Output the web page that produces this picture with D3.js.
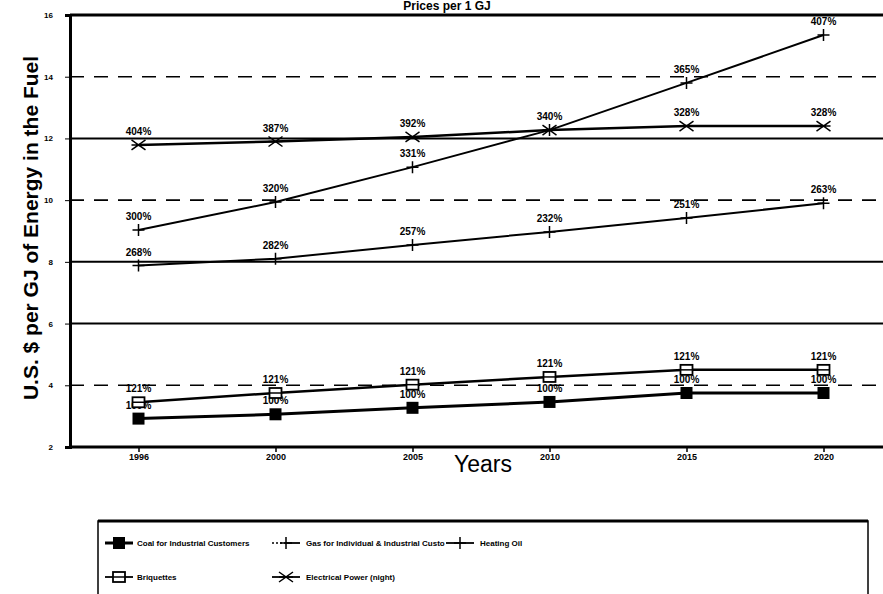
<!DOCTYPE html>
<html>
<head>
<meta charset="utf-8">
<script src="https://cdn.jsdelivr.net/npm/d3@7"></script>
<style>
  body { margin: 0; background: #fff; }
  text { font-family: "Liberation Sans Narrow", "Liberation Sans", Arial, sans-serif; }
</style>
</head>
<body>
<svg id="chart" width="883" height="594"></svg>
<script>
// datos
const years = ['1996', '2000', '2005', '2010', '2015', '2020'];
const yTicks = [2, 4, 6, 8, 10, 12, 14, 16];

const coal = [2.92, 3.06, 3.27, 3.46, 3.75, 3.75];
const coalLabels = ['100%', '100%', '100%', '100%', '100%', '100%'];

const gas = [7.88, 8.1, 8.55, 8.97, 9.42, 9.9];
const gasLabels = ['268%', '282%', '257%', '232%', '251%', '263%'];

const oil = [9.03, 9.94, 11.07, 12.27, 13.8, 15.35];
const oilLabels = ['300%', '320%', '331%', '340%', '365%', '407%'];

const briquettes = [3.45, 3.75, 4.02, 4.27, 4.5, 4.5];
const briqLabels = ['121%', '121%', '121%', '121%', '121%', '121%'];

const power = [11.79, 11.9, 12.05, 12.27, 12.4, 12.4];
const powerLabels = ['404%', '387%', '392%', '', '328%', '328%'];

const svg = d3.select('#chart');

const x = d3.scalePoint().domain(years).range([70, 892]).padding(0.5);
const y = d3.scaleLinear().domain([2, 16]).range([447, 15]);

// lineas de referencia
const solidGrid = [6, 8, 12];
svg.append('g')
  .selectAll('line')
  .data([4, 6, 8, 10, 12, 14])
  .enter()
  .append('line')
  .attr('x1', 70).attr('x2', 883)
  .attr('y1', d => y(d)).attr('y2', d => y(d))
  .attr('stroke', '#000')
  .attr('stroke-width', d => solidGrid.includes(d) ? 2 : 1.6)
  .attr('stroke-dasharray', d => solidGrid.includes(d) ? null : '14,10');

// borde superior
svg.append('line')
  .attr('x1', 70).attr('x2', 883)
  .attr('y1', y(16)).attr('y2', y(16))
  .attr('stroke', '#000').attr('stroke-width', 3);

// ejes
const yAxis = svg.append('g')
  .attr('transform', 'translate(70,0)')
  .call(d3.axisLeft(y).tickValues(yTicks).tickSize(5).tickPadding(12));
yAxis.select('.domain').attr('stroke-width', 3);
yAxis.selectAll('text').attr('font-size', 8).attr('font-weight', 'bold');

const xAxis = svg.append('g')
  .attr('transform', `translate(0,${y(2)})`)
  .call(d3.axisBottom(x).tickSize(5).tickPadding(2).tickSizeOuter(0));
xAxis.select('.domain').attr('stroke-width', 3).attr('d', 'M70,0H883');
xAxis.selectAll('text').attr('font-size', 9).attr('font-weight', 'bold');
xAxis.selectAll('line').attr('stroke-width', 1.5);

// titulo y etiquetas
svg.append('text')
  .attr('x', 447).attr('y', 10)
  .attr('text-anchor', 'middle')
  .attr('font-size', 12).attr('font-weight', 'bold')
  .style('font-family', 'Liberation Sans, Arial, sans-serif')
  .text('Prices per 1 GJ');

svg.append('text')
  .attr('transform', 'translate(38,228) rotate(-90)')
  .attr('text-anchor', 'middle')
  .attr('font-size', 21)
  .attr('font-weight', 'bold')
  .style('font-family', 'Liberation Sans, Arial, sans-serif')
  .text('U.S. $ per GJ of Energy in the Fuel');

svg.append('text')
  .attr('x', 483).attr('y', 472)
  .attr('text-anchor', 'middle')
  .attr('font-size', 23)
  .style('font-family', 'Liberation Sans, Arial, sans-serif')
  .text('Years');

// marcadores
const markers = {
  square: g => g.append('rect').attr('x', -6).attr('y', -6).attr('width', 12).attr('height', 12).attr('fill', '#000'),
  open: g => {
    g.append('rect').attr('x', -6).attr('y', -5).attr('width', 12).attr('height', 10)
      .attr('fill', '#fff').attr('stroke', '#000').attr('stroke-width', 1.8);
    g.append('line').attr('x1', -6).attr('x2', 6).attr('stroke', '#000').attr('stroke-width', 1.5);
  },
  plus: g => g.append('path').attr('d', 'M-6,0H6M0,-6V6').attr('stroke', '#000').attr('stroke-width', 1.5),
  cross: g => g.append('path').attr('d', 'M-7,-5L0,0L-7,5M7,-5L0,0L7,5M-7,0H7')
    .attr('stroke', '#000').attr('stroke-width', 1.5).attr('fill', 'none')
};

const series = [
  { values: coal, labels: coalLabels, marker: 'square', width: 3 },
  { values: briquettes, labels: briqLabels, marker: 'open', width: 2.5 },
  { values: gas, labels: gasLabels, marker: 'plus', width: 2 },
  { values: oil, labels: oilLabels, marker: 'plus', width: 2 },
  { values: power, labels: powerLabels, marker: 'cross', width: 2.5 }
];

const line = d3.line()
  .x((d, i) => x(years[i]))
  .y(d => y(d));

series.forEach(s => {
  svg.append('path')
    .datum(s.values)
    .attr('d', line)
    .attr('fill', 'none')
    .attr('stroke', '#000')
    .attr('stroke-width', s.width);

  const pts = svg.append('g')
    .selectAll('g')
    .data(s.values)
    .enter()
    .append('g')
    .attr('transform', (d, i) => `translate(${x(years[i])},${y(d)})`);
  pts.each(function () { markers[s.marker](d3.select(this)); });

  pts.append('text')
    .attr('y', -10)
    .attr('text-anchor', 'middle')
    .attr('font-size', 10)
    .attr('font-weight', 'bold')
    .text((d, i) => s.labels[i]);
});

// leyenda
const legend = svg.append('g');
legend.append('rect')
  .attr('x', 98).attr('y', 521).attr('width', 770).attr('height', 90)
  .attr('fill', 'none').attr('stroke', '#000').attr('stroke-width', 1.5);
legend.append('line')
  .attr('x1', 98).attr('x2', 868).attr('y1', 521).attr('y2', 521)
  .attr('stroke', '#000').attr('stroke-width', 3);

const legendItems = [
  { name: 'Coal for Industrial Customers', marker: 'square', x: 105, y: 543, dotted: false },
  { name: 'Gas for Individual & Industrial Custo', marker: 'plus', x: 272, y: 543, dotted: true },
  { name: 'Heating Oil', marker: 'plus', x: 446, y: 543, dotted: false },
  { name: 'Briquettes', marker: 'open', x: 105, y: 577, dotted: false },
  { name: 'Electrical Power (night)', marker: 'cross', x: 272, y: 577, dotted: false }
];

legendItems.forEach(it => {
  const g = legend.append('g').attr('transform', `translate(${it.x},${it.y})`);
  if (it.dotted) {
    g.append('line').attr('x1', 0).attr('x2', 14)
      .attr('stroke', '#000').attr('stroke-width', 1.5).attr('stroke-dasharray', '2,2');
    g.append('line').attr('x1', 14).attr('x2', 28)
      .attr('stroke', '#000').attr('stroke-width', 1.8);
  } else {
    g.append('line').attr('x1', 0).attr('x2', 28)
      .attr('stroke', '#000').attr('stroke-width', it.marker === 'square' ? 3 : 1.8);
  }
  const m = g.append('g').attr('transform', 'translate(14,0)');
  markers[it.marker](m);
  g.append('text')
    .attr('x', it.marker === 'square' || it.marker === 'open' ? 32 : 34)
    .attr('y', 3)
    .attr('font-size', 8)
    .attr('font-weight', 'bold')
    .text(it.name);
});
</script>
</body>
</html>
